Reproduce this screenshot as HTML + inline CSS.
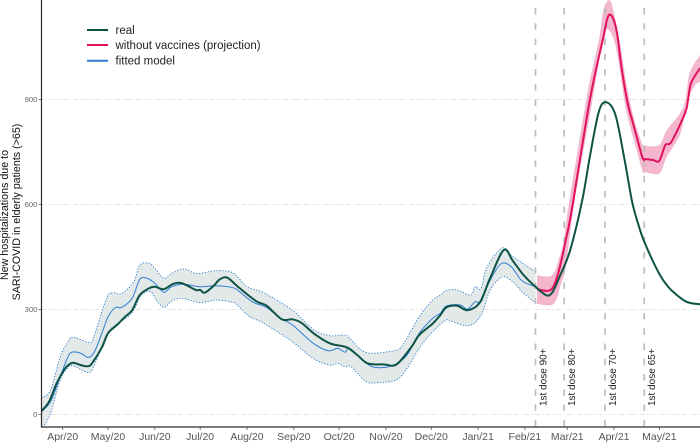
<!DOCTYPE html>
<html>
<head>
<meta charset="utf-8">
<title>Hospitalizations chart</title>
<style>
html,body{margin:0;padding:0;background:#fff;width:700px;height:442px;overflow:hidden}
svg{display:block;font-family:"Liberation Sans",sans-serif}
</style>
</head>
<body>
<svg id="chart" width="700" height="442" viewBox="0 0 700 442" xmlns="http://www.w3.org/2000/svg">
<defs><clipPath id="panel-clip"><rect x="41.5" y="0" width="658.5" height="427"/></clipPath></defs>
<g id="grid"></g>
<g id="marks" clip-path="url(#panel-clip)"></g>
<g id="axes"></g>
<g font-size="10.7" fill="#111" text-anchor="middle">
<text transform="translate(8,215) rotate(-90)">New hospitalizations due to</text>
<text transform="translate(20,212) rotate(-90)">SARI-COVID in elderly patients (&gt;65)</text>
</g>
<g font-size="11.5" fill="#222">
<g>
<line x1="87" x2="108" y1="30" y2="30" stroke="#0d5345" stroke-width="2"/>
<text x="115.5" y="34">real</text>
</g>
<g>
<line x1="87" x2="108" y1="45" y2="45" stroke="#e0115f" stroke-width="2"/>
<text x="115.5" y="49">without vaccines (projection)</text>
</g>
<g>
<line x1="87" x2="108" y1="60.7" y2="60.7" stroke="#2f7fd3" stroke-width="2"/>
<text x="115.5" y="64.7">fitted model</text>
</g>
</g>
</svg>
<script>
// Days are counted from 1 Apr 2020.
const tickDays = [0,30,61,91,122,153,183,214,244,275,306,334,365,395];
const tickLabels = ["Apr/20","May/20","Jun/20","Jul/20","Aug/20","Sep/20","Oct/20","Nov/20","Dec/20","Jan/21","Feb/21","Mar/21","Apr/21","May/21"];
const yTicks = [0,300,600,900];
const doseDays = [313,332,359,385];
const doseLabels = ["1st dose 90+","1st dose 80+","1st dose 70+","1st dose 65+"];

const realDays = [-14,-9,-4,1,4,7,12,17,20,26,30,36,41,46,51,57,61,67,73,79,88,91,94,100,104,109,116,128,135,145,152,158,167,177,188,195,202,213,221,231,236,245,250,254,261,268,276,283,292,298,305,313,320,324,329,336,344,349,355,360,366,372,377,381,385,393,398,404,413,422];
const realValues = [10,37,89,128,142,148,141,138,150,192,232,256,278,298,341,360,365,358,373,375,356,356,348,368,386,391,365,324,311,272,272,262,229,203,192,170,146,143,143,194,227,260,284,306,311,298,319,390,470,439,399,365,341,348,394,470,613,737,866,892,855,727,607,544,494,418,381,351,322,315];

const fittedDays = [-14,-8,-2,3,6,12,17,21,26,30,35,39,46,51,56,61,67,72,80,91,102,113,117,126,135,144,152,166,176,182,187,190,201,208,219,228,236,245,250,254,263,268,273,277,282,290,297,304,313];
const fittedValues = [8,37,104,160,178,175,163,179,233,279,306,306,332,386,389,375,349,365,372,365,368,362,351,321,306,275,256,203,182,189,178,189,146,134,141,170,232,275,289,310,313,301,322,322,375,430,422,382,365];

const upperDays = [-14,-8,-2,3,7,18,21,29,33,39,47,51,57,61,67,72,80,89,102,113,122,133,152,166,177,187,191,201,219,225,236,245,250,254,261,270,273,277,281,291,298,313];
const upperValues = [47,70,161,204,221,205,227,332,348,346,379,427,432,418,389,403,416,403,411,404,365,348,298,243,225,227,213,177,182,198,279,327,341,354,356,341,365,360,422,476,451,408];

const lowerDays = [-14,-12,-8,-2,3,7,17,21,29,35,42,47,52,58,62,67,72,79,91,102,113,117,124,133,152,166,177,182,187,191,201,209,221,228,236,245,254,258,269,277,283,291,298,304,313];
const lowerValues = [-45,-30,4,94,132,139,120,141,227,256,275,298,341,351,327,306,324,332,320,327,320,306,279,261,208,160,141,146,136,136,94,91,99,132,189,237,270,265,254,284,356,393,379,351,318];

const projDays = [314,323,328,333,337,349,358,361,364,367,370,374,377,380,384,386,391,395,399,403,412,414,416,422];
const projValues = [358,356,403,498,584,899,1079,1137,1135,1089,990,890,841,794,732,730,727,725,770,779,861,899,947,990];

const projUpperDays = [314,324,329,332,334,347,355,358,362,365,369,374,379,384,386,395,400,411,415,422];
const projUpperValues = [398,398,451,498,570,908,1070,1156,1184,1146,1060,927,833,770,768,770,813,879,975,1027];

const projLowerDays = [314,325,330,333,339,350,357,359,363,367,373,380,384,386,395,400,409,413,418,422];
const projLowerValues = [316,316,375,422,613,879,1061,1099,1090,1033,870,756,694,692,689,737,803,889,937,951];

const NS = "http://www.w3.org/2000/svg";
function xScale(d){ return 62.7 + 1.5105 * d; }
function yScale(v){ return 414.5 - 0.35 * v; }
function make(tag, attrs, parent){
  const el = document.createElementNS(NS, tag);
  for (const k in attrs) el.setAttribute(k, attrs[k]);
  parent.appendChild(el);
  return el;
}
function pts(days, vals){ return days.map(function(d,i){ return [xScale(d), yScale(vals[i])]; }); }
function curve(p, move){
  let s = (move ? "M" : "L") + p[0][0].toFixed(2) + "," + p[0][1].toFixed(2);
  for (let i = 0; i < p.length - 1; i++){
    const a = p[Math.max(i-1,0)], b = p[i], c = p[i+1], e = p[Math.min(i+2,p.length-1)];
    const c1x = b[0] + (c[0]-a[0])/6, c1y = b[1] + (c[1]-a[1])/6;
    const c2x = c[0] - (e[0]-b[0])/6, c2y = c[1] - (e[1]-b[1])/6;
    s += "C" + c1x.toFixed(2) + "," + c1y.toFixed(2) + " " + c2x.toFixed(2) + "," + c2y.toFixed(2) + " " + c[0].toFixed(2) + "," + c[1].toFixed(2);
  }
  return s;
}
function bandPath(ud, uv, ld, lv){
  return curve(pts(ud,uv), true) + curve(pts(ld,lv).reverse(), false) + "Z";
}

const grid = document.getElementById("grid");
const axes = document.getElementById("axes");
const marks = document.getElementById("marks");

yTicks.forEach(function(v){
  const y = yScale(v);
  const g = make("line", {x1:41.5, x2:700, y1:y, y2:y, stroke:"#dcdcdc", "stroke-width":0.8, "stroke-dasharray":"5 2 1.5 2"}, grid);
  
  
  const t = make("line", {x1:38.5, x2:41.5, y1:y, y2:y, stroke:"#444", "stroke-width":0.7}, axes);
  
  
  const l = make("text", {x:37.3, y:y+2.7, "text-anchor":"end", "font-size":7.6, fill:"#666"}, axes);
  
  
  l.textContent = String(v);
});

const band = make("path", {d:bandPath(upperDays,upperValues,lowerDays,lowerValues), fill:"#e3e9e9"}, marks);



const upperLine = make("path", {d:curve(pts(upperDays,upperValues),true), fill:"none", stroke:"#2f7fd3", "stroke-width":0.9, "stroke-dasharray":"1.3 1.6"}, marks);



const lowerLine = make("path", {d:curve(pts(lowerDays,lowerValues),true), fill:"none", stroke:"#2f7fd3", "stroke-width":0.9, "stroke-dasharray":"1.3 1.6"}, marks);



const projBand = make("path", {d:bandPath(projUpperDays,projUpperValues,projLowerDays,projLowerValues), fill:"#f3b6cd"}, marks);



doseDays.forEach(function(d){
  const x = xScale(d);
  const v = make("line", {x1:x, x2:x, y1:-7.25, y2:427, stroke:"#bdbdbd", "stroke-width":1.7, "stroke-dasharray":"6.5 8.75"}, marks);
  
  
});

const fitted = make("path", {d:curve(pts(fittedDays,fittedValues),true), fill:"none", stroke:"#2f7fd3", "stroke-width":1}, marks);



const proj = make("path", {d:curve(pts(projDays,projValues),true), fill:"none", stroke:"#e0115f", "stroke-width":2, "stroke-linejoin":"round"}, marks);



const real = make("path", {d:curve(pts(realDays,realValues),true), fill:"none", stroke:"#0d5345", "stroke-width":2, "stroke-linejoin":"round"}, marks);



doseDays.forEach(function(d,i){
  const t = make("text", {transform:"translate(" + (xScale(d)+11) + ",406) rotate(-90)", "font-size":10, fill:"#222"}, axes);
  
  
  t.textContent = doseLabels[i];
});

const yAxis = make("line", {x1:41.5, x2:41.5, y1:0, y2:427.6, stroke:"#2b2b2b", "stroke-width":1.2}, axes);



const xAxis = make("line", {x1:41, x2:700, y1:427, y2:427, stroke:"#2b2b2b", "stroke-width":1.2}, axes);



tickDays.forEach(function(d,i){
  const x = xScale(d);
  const t = make("line", {x1:x, x2:x, y1:427, y2:430, stroke:"#444", "stroke-width":0.7}, axes);
  
  
  const l = make("text", {x:x, y:440, "text-anchor":"middle", "font-size":10.5, fill:"#555"}, axes);
  
  
  l.textContent = tickLabels[i];
});
</script>
</body>
</html>
